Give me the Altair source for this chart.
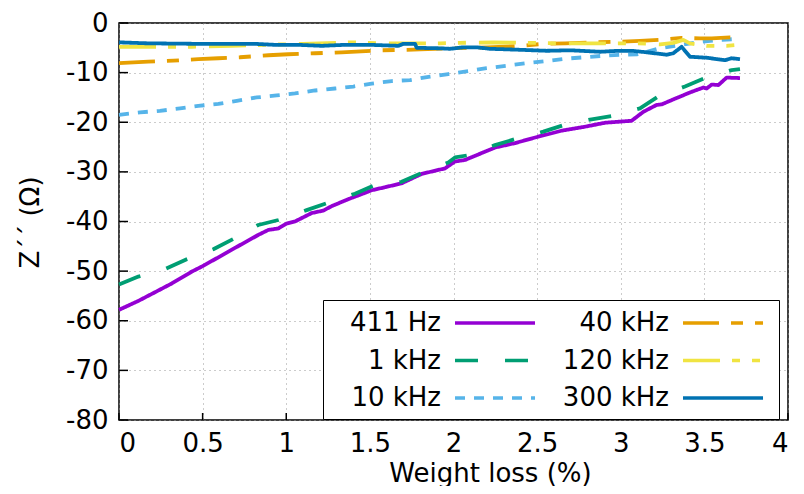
import altair as alt
import pandas as pd

series_names = ["411 Hz", "1 kHz", "10 kHz", "40 kHz", "120 kHz", "300 kHz"]
colors = ["#9400d3", "#009e73", "#56b4e9", "#e69f00", "#f0e442", "#0072b2"]
dashes = [[1, 0], [23, 27], [10, 9], [36, 12, 12, 12], [37, 12, 8, 12, 8, 13], [1, 0]]

x_ticks = [0, 0.5, 1, 1.5, 2, 2.5, 3, 3.5, 4]
y_ticks = [-80, -70, -60, -50, -40, -30, -20, -10, 0]

x_411 = [0, 0.116, 0.315, 0.435, 0.494, 0.574, 0.70, 0.833, 0.893, 0.953, 1.003, 1.052, 1.152,
         1.222, 1.272, 1.371, 1.411, 1.511, 1.590, 1.690, 1.810, 1.949, 2.009, 2.069, 2.248,
         2.368, 2.507, 2.647, 2.786, 2.906, 3.065, 3.135, 3.215, 3.245, 3.314, 3.414, 3.494,
         3.514, 3.544, 3.584, 3.633, 3.713]
y_411 = [-57.8, -56.0, -52.5, -50.1, -49.1, -47.6, -45.2, -42.7, -41.7, -41.4, -40.4, -40.0, -38.3,
         -37.8, -36.9, -35.5, -35.0, -33.7, -33.1, -32.3, -30.4, -29.3, -27.9, -27.6, -25.1,
         -24.2, -22.9, -21.7, -20.9, -20.1, -19.7, -17.9, -16.5, -16.4, -15.4, -14.0, -13.0,
         -13.2, -12.4, -12.5, -11.0, -11.1]

x_1k = [0, 0.116, 0.275, 0.405, 0.564, 0.684, 0.833, 0.953, 1.122, 1.242, 1.411, 1.52, 1.69,
        1.81, 1.969, 2.009, 2.079, 2.248, 2.368, 2.537, 2.657, 2.826, 2.956, 3.115, 3.225,
        3.384, 3.504, 3.663, 3.713]
y_1k = [-52.7, -51.1, -49.6, -47.6, -45.6, -43.5, -40.7, -39.7, -37.7, -36.3, -34.4, -32.8, -32.0,
        -30.2, -28.1, -27.1, -26.7, -24.6, -23.4, -21.9, -20.6, -19.4, -18.7, -17.2, -14.8,
        -12.8, -11.1, -9.5, -9.3]

x_10k = [0, 0.126, 0.245, 0.365, 0.474, 0.594, 0.704, 0.823, 0.943, 1.052, 1.172, 1.291, 1.401,
         1.511, 1.63, 1.74, 1.86, 1.969, 2.089, 2.198, 2.318, 2.438, 2.547, 2.667, 2.786, 2.896,
         3.016, 3.1, 3.245, 3.364, 3.474, 3.593, 3.703]
y_10k = [-18.5, -18.0, -17.7, -17.2, -16.7, -16.3, -15.7, -15.0, -14.6, -14.2, -13.6, -13.2, -12.8,
         -12.2, -11.7, -11.5, -10.8, -10.3, -9.7, -9.1, -8.6, -8.1, -7.7, -7.2, -6.9, -6.6,
         -6.4, -6.3, -5.0, -4.4, -3.8, -3.4, -3.2]

x_40k = [0, 0.175, 0.325, 0.474, 0.594, 0.723, 0.893, 1.012, 1.172, 1.331, 1.561, 1.72, 1.80,
         1.979, 2.2, 2.398, 2.537, 2.667, 2.836, 2.966, 3.115, 3.235, 3.364, 3.474, 3.544,
         3.653, 3.703]
y_40k = [-8.1, -7.8, -7.6, -7.3, -7.1, -6.9, -6.5, -6.3, -6.1, -5.9, -5.5, -5.4, -5.3,
         -5.1, -4.9, -4.6, -4.2, -4.1, -3.9, -3.8, -3.6, -3.4, -3.0, -3.1, -3.1,
         -2.9, -2.9]

x_120k = [0, 0.215, 0.435, 0.674, 0.873, 1.1, 1.381, 1.6, 1.92, 2.039, 2.236, 2.457, 2.617,
          2.876, 3.105, 3.235, 3.314, 3.374, 3.414, 3.514, 3.633, 3.703]
y_120k = [-4.8, -4.8, -4.8, -4.6, -4.4, -4.2, -3.9, -4.1, -4.1, -4.0, -3.9, -4.0, -4.1,
          -4.1, -4.1, -4.3, -4.0, -3.4, -4.1, -4.6, -4.6, -4.4]

x_300k = [0, 0.175, 0.474, 0.813, 0.933, 1.072, 1.212, 1.351, 1.50, 1.67, 1.70, 1.77, 1.78,
          1.919, 1.979, 2.059, 2.139, 2.218, 2.398, 2.557, 2.697, 2.876, 2.986, 3.065, 3.155,
          3.275, 3.314, 3.364, 3.414, 3.514, 3.623, 3.663, 3.713]
y_300k = [-3.9, -4.1, -4.2, -4.2, -4.4, -4.4, -4.6, -4.4, -4.4, -4.6, -4.2, -4.2, -5.0,
          -5.1, -5.2, -4.9, -4.9, -5.2, -5.4, -5.6, -5.5, -5.8, -5.6, -5.6, -5.9,
          -6.4, -6.1, -4.8, -6.8, -7.0, -7.5, -7.1, -7.3]

all_x = [x_411, x_1k, x_10k, x_40k, x_120k, x_300k]
all_y = [y_411, y_1k, y_10k, y_40k, y_120k, y_300k]

frames = []
for name, xs, ys in zip(series_names, all_x, all_y):
    frames.append(pd.DataFrame({"x": xs, "y": ys, "series": name}))
df = pd.concat(frames, ignore_index=True)

FONT = "DejaVu Sans"

# legend sample: a horizontal stroke drawn to the right of the (right-aligned) label
legend = alt.Legend(
    title=None, orient="none", legendX=204, legendY=277, columns=2, direction="vertical",
    symbolType="M8.385,0H14.54", symbolSize=676, symbolStrokeWidth=3.5,
    labelAlign="right", labelOffset=80, labelFontSize=26, labelFont=FONT,
    labelColor="black", strokeColor="black", fillColor="white", padding=8,
    columnPadding=16, rowPadding=9.5, labelLimit=0,
)

xscale = alt.Scale(domain=[0, 4], nice=False, zero=False)
yscale = alt.Scale(domain=[-80, 0], nice=False, zero=False)

xaxis = alt.Axis(
    values=x_ticks, title="Weight loss (%)", labelExpr="'' + datum.value",
    grid=True, gridDash=[1, 4], gridColor="#999999", gridWidth=1,
    tickSize=0, domain=False, labelPadding=10,
    titleX=371, titleY=61, titleBaseline="alphabetic", titleAlign="center")
yaxis = alt.Axis(
    values=y_ticks, title="Z´´ (Ω)", labelExpr="'' + datum.value",
    grid=True, gridDash=[1, 4], gridColor="#999999", gridWidth=1,
    tickSize=0, domain=False, labelPadding=11,
    titleX=-81, titleY=199, titleBaseline="alphabetic", titleAlign="center", titleAngle=270)

lines = alt.Chart(df).mark_line(strokeWidth=3.8, strokeCap="butt", strokeJoin="round").encode(
    x=alt.X("x:Q", scale=xscale, axis=xaxis),
    y=alt.Y("y:Q", scale=yscale, axis=yaxis),
    color=alt.Color("series:N", scale=alt.Scale(domain=series_names, range=colors), legend=legend),
    strokeDash=alt.StrokeDash("series:N", scale=alt.Scale(domain=series_names, range=dashes), legend=legend),
    order=alt.Order("x:Q"),
)

ytick_df = pd.DataFrame({"y": y_ticks})
xtick_df = pd.DataFrame({"x": x_ticks})

yticks = alt.Chart(ytick_df).mark_rule(color="black", strokeWidth=1.5).encode(
    y=alt.Y("y:Q", scale=yscale, axis=yaxis),
    x=alt.value(0), x2=alt.value(9),
)
xticks = alt.Chart(xtick_df).mark_rule(color="black", strokeWidth=1.5).encode(
    x=alt.X("x:Q", scale=xscale, axis=xaxis),
    y=alt.value(397), y2=alt.value(390),
)

chart = alt.layer(lines, yticks, xticks).properties(
    width=669, height=397,
    autosize=alt.AutoSizeParams(type="none"),
    padding={"left": 111, "top": 15, "right": 8, "bottom": 66},
).configure_axis(
    labelFont=FONT, titleFont=FONT, labelFontSize=26, titleFontSize=26,
    labelColor="black", titleColor="black", titleFontWeight="normal",
).configure_view(
    stroke="black", strokeWidth=1.5,
)

chart.save("out.html", embed_options={"renderer": "svg", "actions": False})
